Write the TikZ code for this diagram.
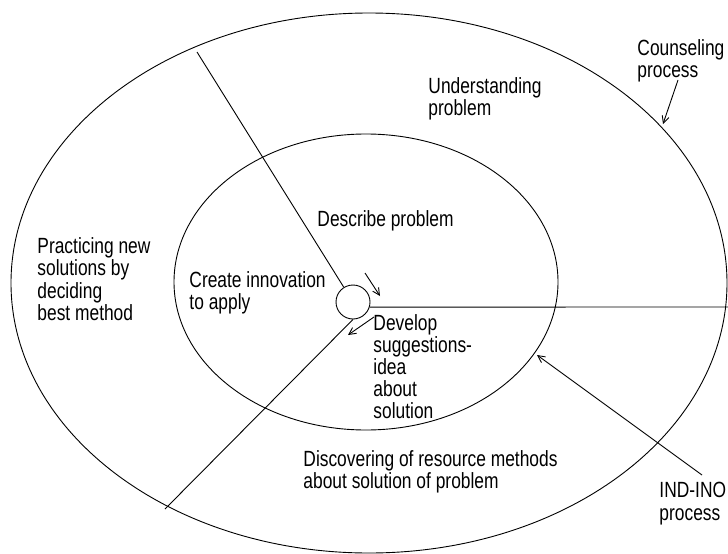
\documentclass[tikz,border=0pt]{standalone}
\usepackage{fontspec}
\setmainfont{Liberation Sans}[FakeStretch=0.79]
\usetikzlibrary{shapes.geometric,arrows.meta}

\begin{document}
\begin{tikzpicture}[x=1pt,y=-1pt,line width=.9pt,
   lbl/.style={anchor=north west,inner sep=0pt,align=left,font=\fontsize{22}{22.5}\selectfont},
   ring/.style={draw,shape=ellipse,inner sep=0pt},
   tip/.style={-{Straight Barb[length=7pt,width=7pt]}}]

   \useasboundingbox (0,0) rectangle (728,554);

     \path (369,283) node[ring,minimum width=716pt,minimum height=540pt] (outer) {};
     \path (366,282) node[ring,minimum width=384pt,minimum height=296pt] (inner) {};
     \path (353,302) node[draw,shape=circle,minimum size=34pt,inner sep=0pt] (hub) {};

     \coordinate (nw) at (197,52);
     \coordinate (sw) at (165,509);
     \coordinate (ea) at (728,307);
     \coordinate (in1) at (365,273);
     \coordinate (in2) at (380,296);
     \coordinate (out1) at (374,317);
     \coordinate (out2) at (348,335);
     \coordinate (cp) at (678,80);
     \coordinate (cq) at (663,124);
     \coordinate (ip) at (702,475);
     \coordinate (iq) at (537,355);

     \path (637,39) node[lbl] (couns) {Counseling\\process};
     \path (428,77) node[lbl] (under) {Understanding\\problem};
     \path (317,210) node[lbl] (descr) {Describe problem};
     \path (37,237) node[lbl] (pract) {Practicing new\\solutions by\\deciding\\best method};
     \path (189,271) node[lbl] (creat) {Create innovation\\to apply};
     \path (373,314) node[lbl,font=\fontsize{22}{22}\selectfont] (devel) {Develop\\suggestions-\\idea\\about\\solution};
     \path (303,450) node[lbl] (disc) {Discovering of resource methods\\about solution of problem};
     \path (659,482) node[lbl] (indino) {IND-INO\\process};

      \draw (nw) -- (hub);
      \draw (sw) -- (hub.south);
      \draw (hub.-17) -- (ea);
      \draw[tip] (in1) -- (in2);
      \draw[tip] (out1) -- (out2);
      \draw[tip] (cp) -- (cq);
      \draw[tip] (ip) -- (iq);

   \end{tikzpicture}
\end{document}
